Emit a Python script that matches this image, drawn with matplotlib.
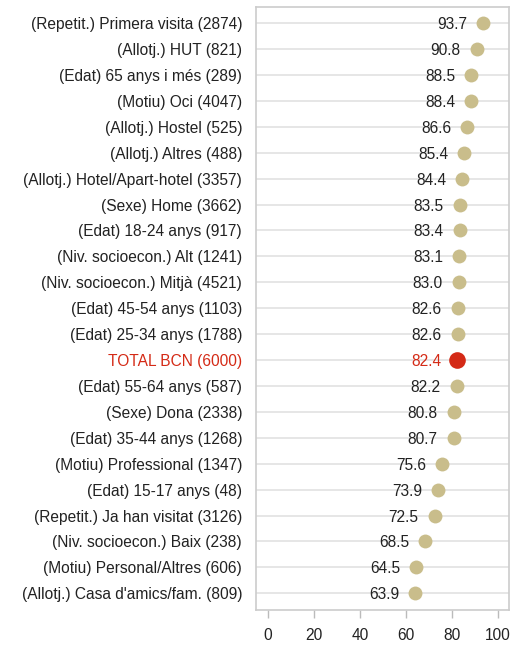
import numpy as np
import matplotlib.pyplot as plt

plt.rcParams['font.family'] = ['Liberation Sans', 'DejaVu Sans']

labels = [
    "(Repetit.) Primera visita (2874)",
    "(Allotj.) HUT (821)",
    "(Edat) 65 anys i més (289)",
    "(Motiu) Oci (4047)",
    "(Allotj.) Hostel (525)",
    "(Allotj.) Altres (488)",
    "(Allotj.) Hotel/Apart-hotel (3357)",
    "(Sexe) Home (3662)",
    "(Edat) 18-24 anys (917)",
    "(Niv. socioecon.) Alt (1241)",
    "(Niv. socioecon.) Mitjà (4521)",
    "(Edat) 45-54 anys (1103)",
    "(Edat) 25-34 anys (1788)",
    "TOTAL BCN (6000)",
    "(Edat) 55-64 anys (587)",
    "(Sexe) Dona (2338)",
    "(Edat) 35-44 anys (1268)",
    "(Motiu) Professional (1347)",
    "(Edat) 15-17 anys (48)",
    "(Repetit.) Ja han visitat (3126)",
    "(Niv. socioecon.) Baix (238)",
    "(Motiu) Personal/Altres (606)",
    "(Allotj.) Casa d'amics/fam. (809)",
]
values = [93.7, 90.8, 88.5, 88.4, 86.6, 85.4, 84.4, 83.5, 83.4, 83.1, 83.0,
          82.6, 82.6, 82.4, 82.2, 80.8, 80.7, 75.6, 73.9, 72.5, 68.5, 64.5, 63.9]
total_label = "TOTAL BCN (6000)"

beige = '#C9BD8B'
red = '#D42A16'

fig = plt.figure(figsize=(5.12, 6.45), dpi=100)
ax = fig.add_axes([0.5, 0.054, 0.494, 0.935])

y = np.arange(len(labels))
for yi, lab, v in zip(y, labels, values):
    is_tot = lab == total_label
    ax.axhline(yi, color='#e2e2e2', lw=1.2, zorder=1)
    ax.plot(v, yi, 'o', ms=12 if is_tot else 10, color=red if is_tot else beige,
            mec='none', zorder=3)
    ax.annotate(f"{v:.1f}", (v, yi), xytext=(-11.5, 0), textcoords='offset points',
                ha='right', va='center_baseline', fontsize=11.2,
                color=red if is_tot else '#222222')

ax.set_xlim(-5.2, 104.8)
ax.set_ylim(len(labels) - 0.35, -0.62)
ax.set_yticks(y)
ax.set_yticklabels(labels, fontsize=11.2, va='center_baseline')
for t, lab in zip(ax.get_yticklabels(), labels):
    if lab == total_label:
        t.set_color(red)
    else:
        t.set_color('#222222')
ax.tick_params(axis='y', length=0, pad=10)
ax.set_xticks([0, 20, 40, 60, 80, 100])
ax.tick_params(axis='x', length=6, width=1, color='#bbbbbb', pad=7,
               labelsize=11.2, labelcolor='#222222')
for s in ax.spines.values():
    s.set_color('#cccccc')
    s.set_linewidth(1.2)

fig.savefig('out.png', dpi=100)
